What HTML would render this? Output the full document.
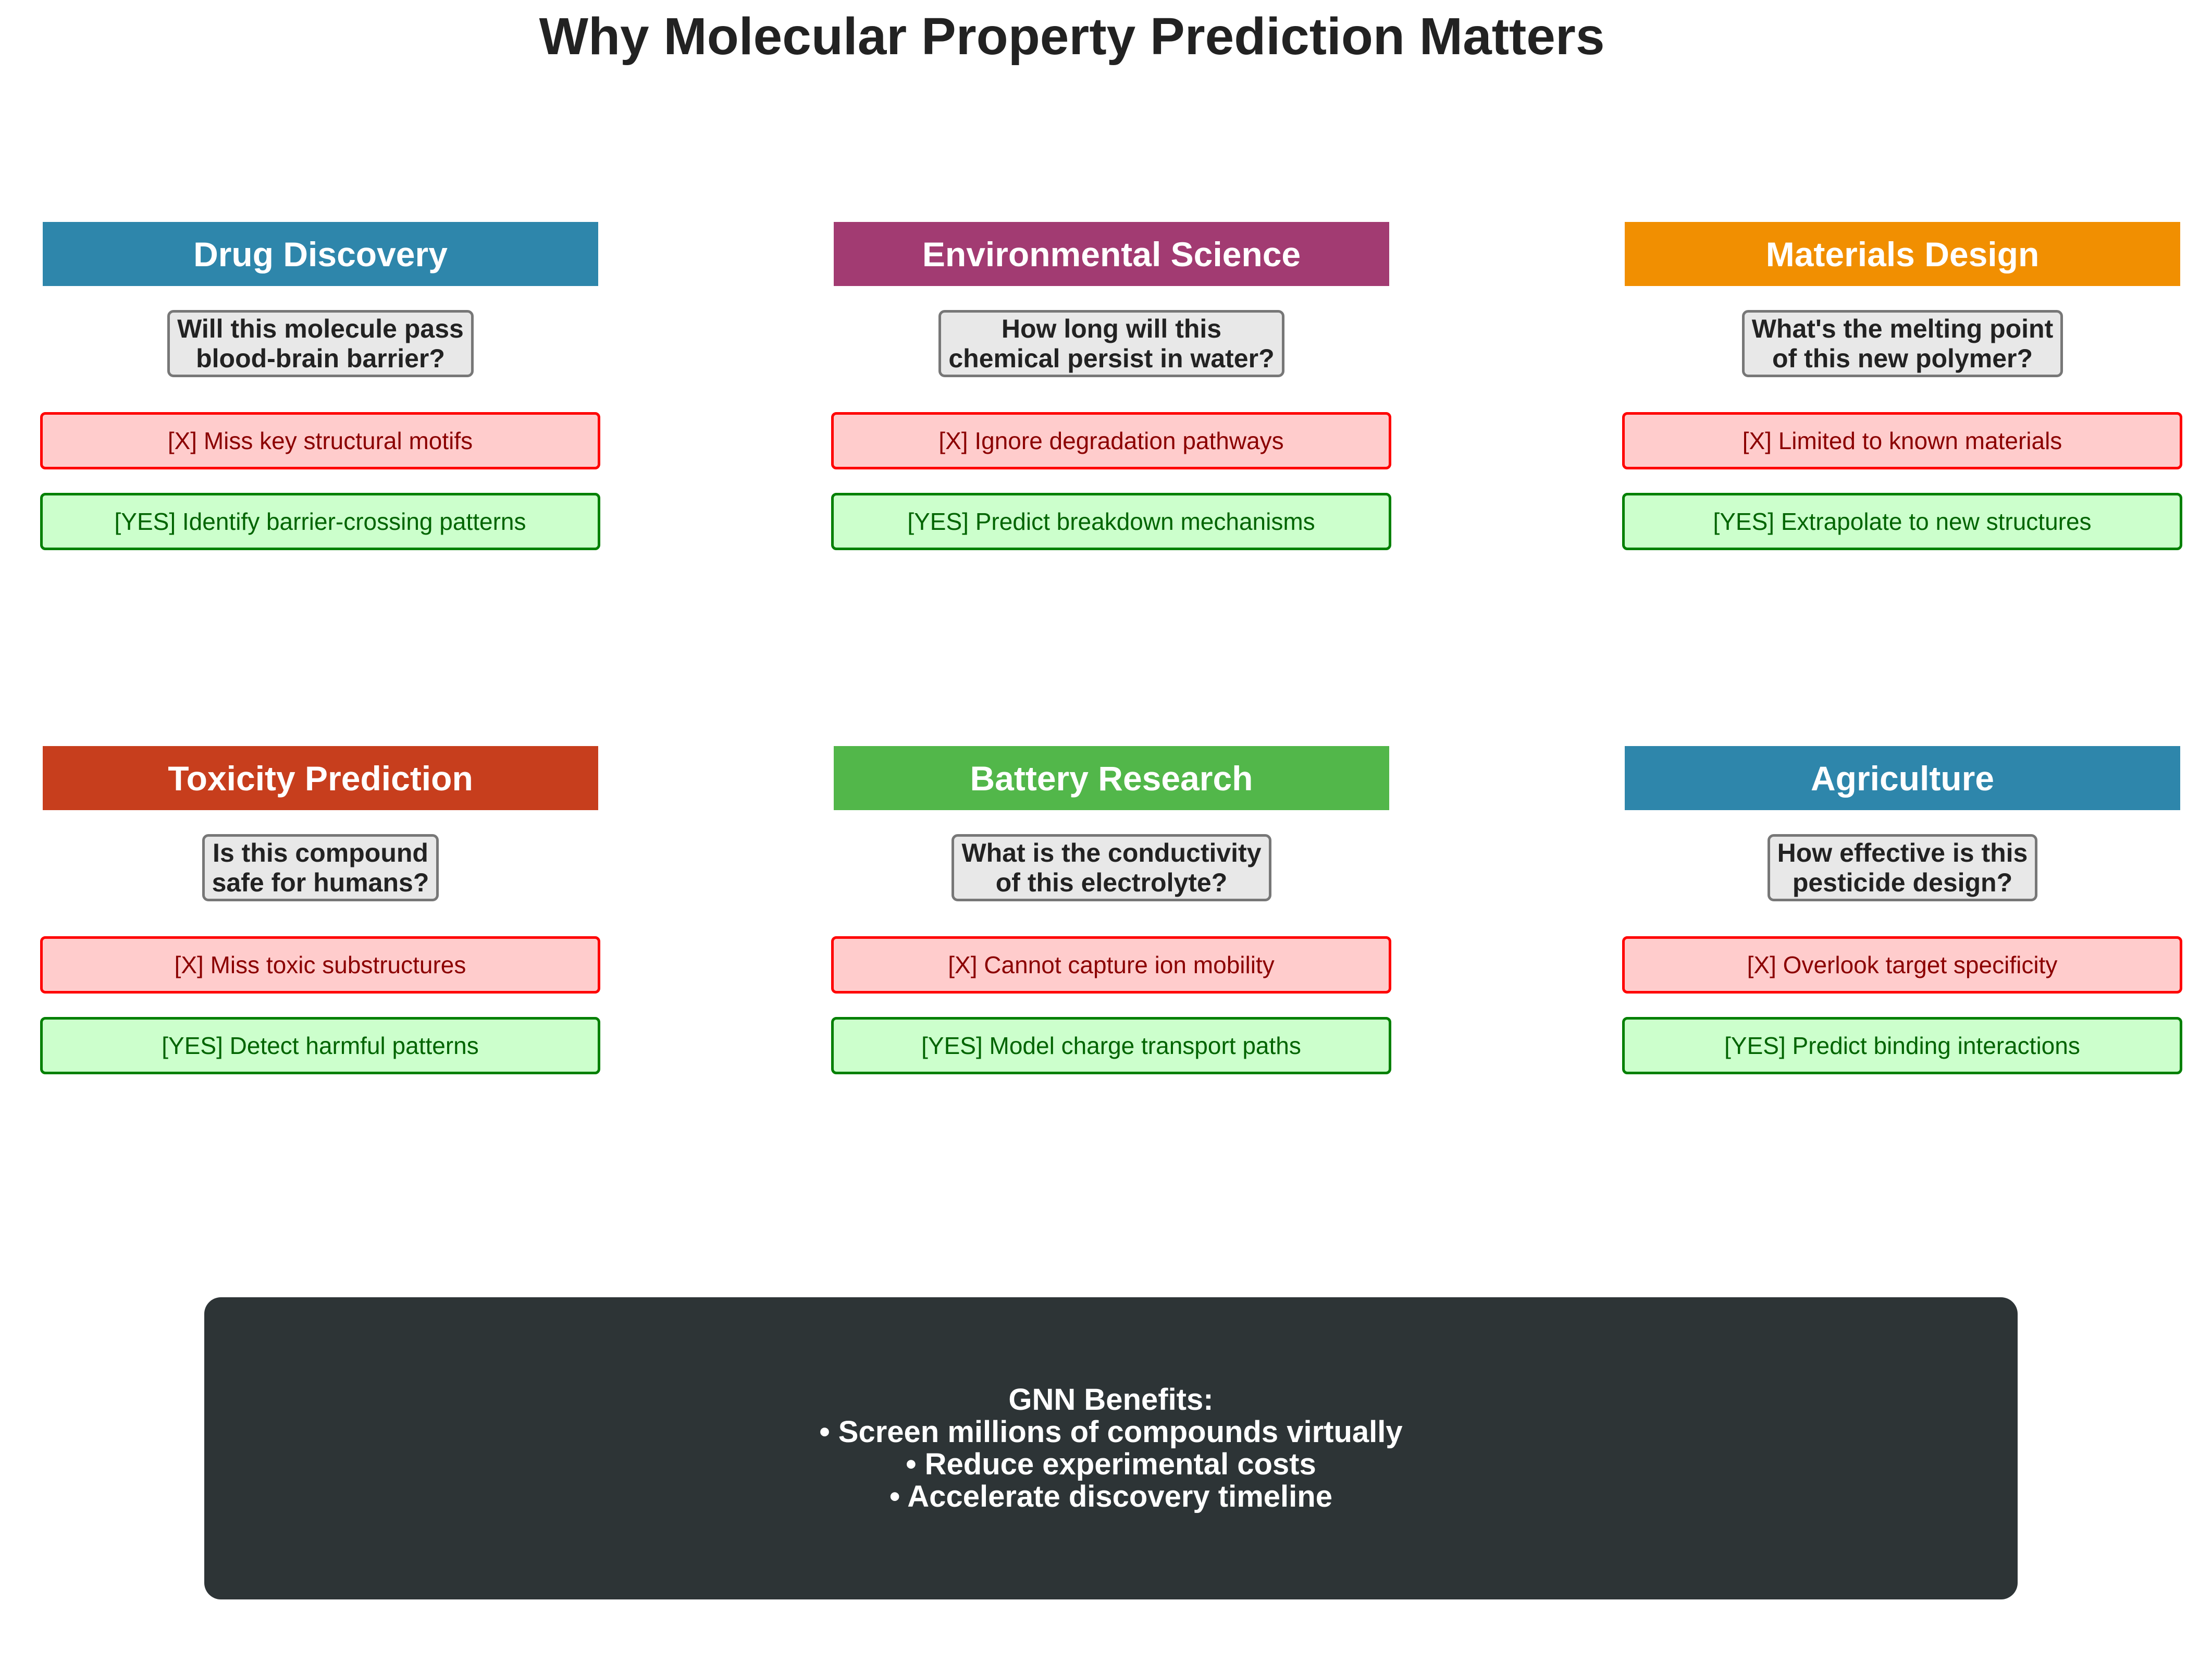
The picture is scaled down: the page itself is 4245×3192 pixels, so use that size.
<!DOCTYPE html>
<html><head><meta charset="utf-8"><style>
body{margin:0;width:4245px;height:3192px;background:#fff;position:relative;overflow:hidden;font-family:"Liberation Sans",Arial,sans-serif}
.t{position:absolute;left:0;top:8px;width:4114px;text-align:center;font-weight:bold;font-size:100px;color:#222;line-height:124px}
.h{position:absolute;width:1066px;height:123px;color:#fff;font-weight:bold;font-size:66px;display:flex;align-items:center;justify-content:center}
.qw{position:absolute;width:1066px;display:flex;justify-content:center}
.q{background:#e8e8e8;border:5px solid #777;border-radius:12px;padding:4px 14px;font-weight:bold;font-size:50px;line-height:57px;color:#222;text-align:center;height:129px;box-sizing:border-box;display:flex;align-items:center}
.b{position:absolute;width:1075px;height:110px;box-sizing:border-box;border:5px solid;border-radius:10px;font-size:46px;display:flex;align-items:center;justify-content:center}
.r{background:#ffcccc;border-color:#f00;color:#8b0000}
.g{background:#ccffcc;border-color:#008000;color:#006400}
.f{position:absolute;left:392px;top:2490px;width:3480px;height:580px;background:#2d3436;border-radius:32px;color:#fff;font-weight:bold;font-size:58px;line-height:62px;display:flex;align-items:center;justify-content:center;text-align:center}
</style></head><body>
<div class="t">Why Molecular Property Prediction Matters</div>

<div class="h" style="left:82px;top:426px;background:#2e86ab">Drug Discovery</div>
<div class="qw" style="left:82px;top:595px"><div class="q">Will this molecule pass<br>blood-brain barrier?</div></div>
<div class="b r" style="left:77px;top:791px">[X] Miss key structural motifs</div>
<div class="b g" style="left:77px;top:946px">[YES] Identify barrier-crossing patterns</div>

<div class="h" style="left:1600px;top:426px;background:#a23b72">Environmental Science</div>
<div class="qw" style="left:1600px;top:595px"><div class="q">How long will this<br>chemical persist in water?</div></div>
<div class="b r" style="left:1595px;top:791px">[X] Ignore degradation pathways</div>
<div class="b g" style="left:1595px;top:946px">[YES] Predict breakdown mechanisms</div>

<div class="h" style="left:3118px;top:426px;background:#f18f01">Materials Design</div>
<div class="qw" style="left:3118px;top:595px"><div class="q">What's the melting point<br>of this new polymer?</div></div>
<div class="b r" style="left:3113px;top:791px">[X] Limited to known materials</div>
<div class="b g" style="left:3113px;top:946px">[YES] Extrapolate to new structures</div>

<div class="h" style="left:82px;top:1432px;background:#c73e1d">Toxicity Prediction</div>
<div class="qw" style="left:82px;top:1601px"><div class="q">Is this compound<br>safe for humans?</div></div>
<div class="b r" style="left:77px;top:1797px">[X] Miss toxic substructures</div>
<div class="b g" style="left:77px;top:1952px">[YES] Detect harmful patterns</div>

<div class="h" style="left:1600px;top:1432px;background:#52b74a">Battery Research</div>
<div class="qw" style="left:1600px;top:1601px"><div class="q">What is the conductivity<br>of this electrolyte?</div></div>
<div class="b r" style="left:1595px;top:1797px">[X] Cannot capture ion mobility</div>
<div class="b g" style="left:1595px;top:1952px">[YES] Model charge transport paths</div>

<div class="h" style="left:3118px;top:1432px;background:#2e86ab">Agriculture</div>
<div class="qw" style="left:3118px;top:1601px"><div class="q">How effective is this<br>pesticide design?</div></div>
<div class="b r" style="left:3113px;top:1797px">[X] Overlook target specificity</div>
<div class="b g" style="left:3113px;top:1952px">[YES] Predict binding interactions</div>

<div class="f"><div>GNN Benefits:<br>• Screen millions of compounds virtually<br>• Reduce experimental costs<br>• Accelerate discovery timeline</div></div>
</body></html>
